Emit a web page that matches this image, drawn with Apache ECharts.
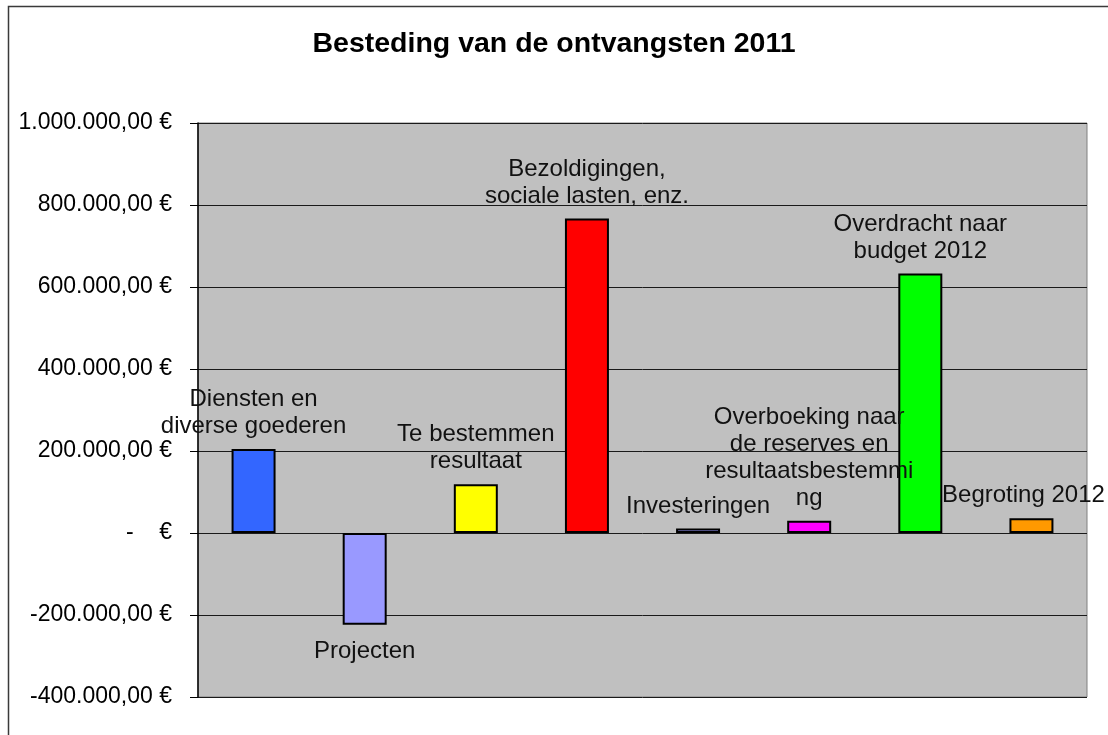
<!DOCTYPE html>
<html>
<head>
<meta charset="utf-8">
<script src="https://cdn.jsdelivr.net/npm/echarts@6/dist/echarts.min.js"></script>
<style>
html,body{margin:0;padding:0;background:#fff;}
#chart{width:1108px;height:735px;}
</style>
</head>
<body>
<div id="chart"></div>
<script>
var titleText = 'Besteding van de ontvangsten 2011';
var categories = [
  'Diensten en\ndiverse goederen',
  'Projecten',
  'Te bestemmen\nresultaat',
  'Bezoldigingen,\nsociale lasten, enz.',
  'Investeringen',
  'Overboeking naar\nde reserves en\nresultaatsbestemmi\nng',
  'Overdracht naar\nbudget 2012',
  'Begroting 2012'
];
var values = [205000, -224000, 119000, 767000, 11000, 30000, 633000, 36000];
var barColors = ['#3366FF', '#9999FF', '#FFFF00', '#FF0000', '#9999FF', '#FF00FF', '#00FF00', '#FF9900'];
var yMin = -400000, yMax = 1000000, yStep = 200000;

function fmtEuro(v) {
  if (v === 0) return '-    \u20AC';
  var neg = v < 0;
  var s = Math.abs(Math.round(v)).toString();
  var out = '';
  while (s.length > 3) {
    out = '.' + s.slice(-3) + out;
    s = s.slice(0, -3);
  }
  out = s + out;
  return (neg ? '-' : '') + out + ',00 \u20AC';
}

var font = '"Liberation Sans", Arial, sans-serif';
var chart = echarts.init(document.getElementById('chart'), null, {renderer: 'canvas'});

var data = values.map(function (v, i) {
  var lab = v < 0 ? {position: 'bottom', distance: 13} : {position: 'top', distance: 9};
  if (i === values.length - 1) lab.offset = [-8, 0];
  return {
    value: v,
    itemStyle: {color: barColors[i]},
    label: lab
  };
});

chart.setOption({
  animation: false,
  backgroundColor: '#ffffff',
  graphic: [{
    type: 'rect',
    shape: {x: 8.5, y: 6.5, width: 1300, height: 900},
    style: {fill: 'none', stroke: '#3a3a3a', lineWidth: 1.5},
    silent: true,
    z: 100
  }],
  title: {
    text: titleText,
    left: 'center',
    top: 24,
    textStyle: {fontFamily: font, fontSize: 28.5, fontWeight: 'bold', color: '#000', lineHeight: 30}
  },
  grid: {
    left: 198, right: 21, top: 123, bottom: 38,
    show: true,
    backgroundColor: '#C0C0C0',
    borderColor: '#808080',
    borderWidth: 1
  },
  xAxis: {
    type: 'category',
    data: categories,
    axisLine: {show: false},
    axisTick: {show: false},
    axisLabel: {show: false},
    splitLine: {show: false}
  },
  yAxis: {
    type: 'value',
    min: yMin, max: yMax, interval: yStep,
    axisLine: {show: true, lineStyle: {color: '#000', width: 1.5}},
    axisTick: {show: true, length: 8, lineStyle: {color: '#000', width: 1}},
    axisLabel: {
      formatter: fmtEuro,
      fontFamily: font, fontSize: 23, color: '#000', margin: 26
    },
    splitLine: {show: true, lineStyle: {color: '#1a1a1a', width: 1}}
  },
  series: [{
    type: 'bar',
    data: data,
    barWidth: 44,
    itemStyle: {borderColor: '#000', borderWidth: 2},
    label: {
      show: true,
      formatter: function (p) { return categories[p.dataIndex]; },
      fontFamily: font,
      fontSize: 24,
      lineHeight: 27,
      color: '#111',
      align: 'center'
    }
  }]
});
</script>
</body>
</html>
